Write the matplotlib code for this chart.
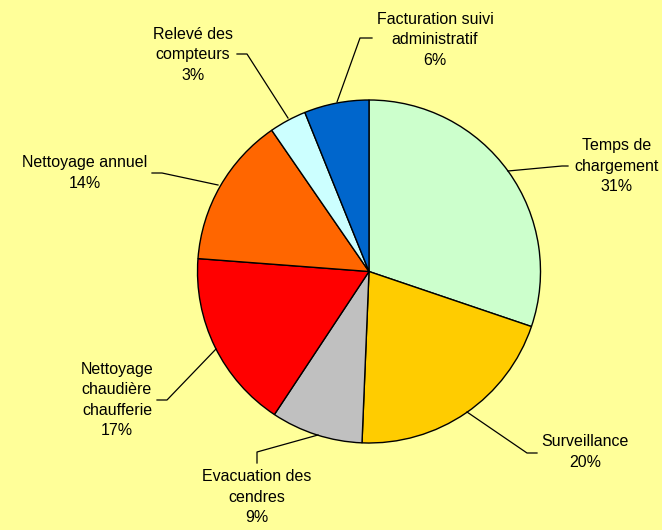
import matplotlib.pyplot as plt

labels = ["Temps de\nchargement", "Surveillance", "Evacuation des\ncendres",
          "Nettoyage\nchaudière\nchaufferie", "Nettoyage annuel",
          "Relevé des\ncompteurs", "Facturation suivi\nadministratif"]
# wedge shares as measured on the picture, and the percentages printed on it
shares = [30.2, 20.45, 8.65, 16.9, 14.2, 3.5, 6.1]
pct_labels = ["31%", "20%", "9%", "17%", "14%", "3%", "6%"]
colors = ["#CCFFCC", "#FFCC00", "#C0C0C0", "#FF0000", "#FF6600", "#CCFFFF", "#0066CC"]

# pixel helpers (center of pie at 369,271.5, radius 171.5 px)
R = 171.5
CX, CY = 369, 271.5
def px(x, y):
    return ((x - CX) / R, (CY - y) / R)

# label text centres and leader lines (pixel coords)
text_pos = [(617, 166), (585, 452), (257, 497), (117, 400), (85, 173), (193, 55), (435, 40)]
leaders = [
    [(508, 171), (562, 166), (568, 166)],
    [(467, 412), (527, 453), (537, 453)],
    [(318, 435), (257, 452), (257, 463)],
    [(216, 349), (167, 400), (157, 400)],
    [(218, 185), (162, 173), (152, 173)],
    [(288, 118), (247, 54), (237, 54)],
    [(337, 102), (360, 38), (372, 38)],
]

plt.rcParams["font.family"] = ["Liberation Sans", "DejaVu Sans"]
fig = plt.figure(figsize=(6.62, 5.30), dpi=100)
fig.patch.set_facecolor("#FFFF99")
ax = fig.add_axes([0, 0, 1, 1])
ax.set_facecolor("#FFFF99")

ax.pie(shares, colors=colors, startangle=90, counterclock=False, radius=1,
       wedgeprops=dict(edgecolor="black", linewidth=1))

for lab, p, (tx, ty), pts in zip(labels, pct_labels, text_pos, leaders):
    x, y = px(tx, ty)
    ax.text(x, y, f"{lab}\n{p}", ha="center", va="center", fontsize=11.5,
            linespacing=1.43, color="black")
    xs = [px(a, b)[0] for a, b in pts]
    ys = [px(a, b)[1] for a, b in pts]
    ax.plot(xs, ys, color="black", linewidth=0.9)

ax.set_xlim(-CX / R, (662 - CX) / R)
ax.set_ylim(-(530 - CY) / R, CY / R)
ax.set_aspect("auto")
ax.axis("off")

fig.savefig("out.png", dpi=100, facecolor=fig.get_facecolor())
